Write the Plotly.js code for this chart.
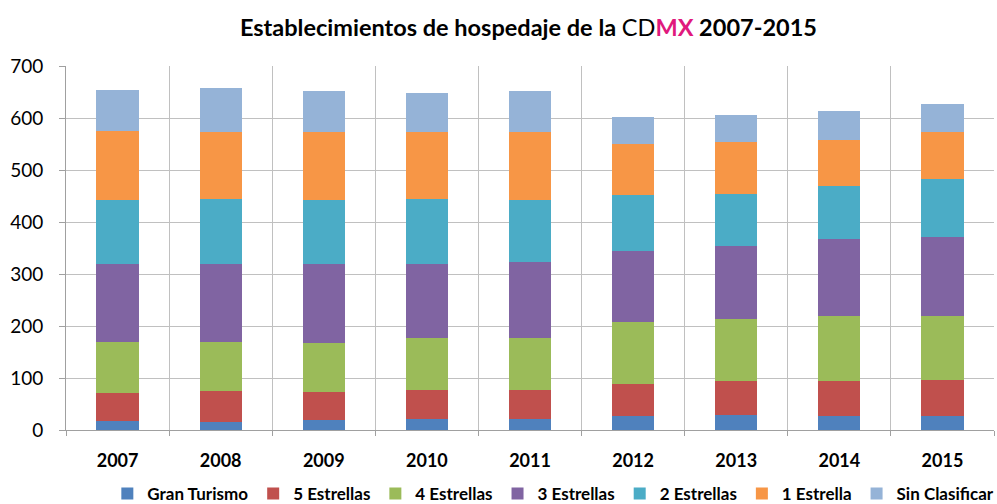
<!DOCTYPE html>
<html>
<head>
<meta charset="utf-8">
<script src="https://cdn.plot.ly/plotly-3.0.1.min.js"></script>
<style>html,body{margin:0;padding:0;background:#fff;}#chart{width:997px;height:504px;}</style>
</head>
<body>
<div id="chart"></div>
<script>
var years = ["2007","2008","2009","2010","2011","2012","2013","2014","2015"];
var granTurismo   = [17, 16, 20, 22, 22, 27, 29, 26, 26];
var cincoEstrellas = [55, 59, 54, 55, 55, 62, 66, 69, 71];
var cuatroEstrellas = [98, 94, 94, 99, 99, 118, 118, 124, 123];
var tresEstrellas = [150, 151, 151, 144, 147, 137, 140, 149, 152];
var dosEstrellas  = [123, 124, 124, 124, 119, 108, 101, 101, 111];
var unaEstrella   = [132, 130, 130, 130, 132, 98, 100, 88, 91];
var sinClasificar = [79, 83, 79, 75, 77, 52, 51, 56, 52];

var seriesNames = ["Gran Turismo","5 Estrellas","4 Estrellas","3 Estrellas","2 Estrellas","1 Estrella","Sin Clasificar"];
var seriesData = [granTurismo, cincoEstrellas, cuatroEstrellas, tresEstrellas, dosEstrellas, unaEstrella, sinClasificar];
var colors = ["#4F81BD","#C0504D","#9BBB59","#8064A2","#4BACC6","#F79646","#95B3D7"];

var traces = seriesNames.map(function(n, i){
  return {type:"bar", name:n, x:years, y:seriesData[i], marker:{color:colors[i], line:{width:0}}};
});

var font = "Lato, 'Open Sans', sans-serif";
var layout = {
  width:997, height:504,
  barmode:"stack", bargap:0.59,
  margin:{l:66, r:3, t:66, b:74, autoexpand:false},
  paper_bgcolor:"#fff", plot_bgcolor:"#fff",
  font:{family:font, size:15, color:"#000"},
  title:{text:"<b>Establecimientos de hospedaje de la </b>CD<b><span style='color:#E0197D'>MX</span> 2007-2015</b>",
         x:0.53, xanchor:"center", y:0.945, yanchor:"middle", font:{family:font, size:23.5, color:"#000"}},
  xaxis:{type:"category", tickson:"boundaries", showgrid:true, gridcolor:"#C0C0C0", gridwidth:1,
         ticks:"outside", ticklen:5, tickcolor:"#A0A0A0", showline:true, linecolor:"#A0A0A0",
         tickfont:{family:font, size:18, weight:"bold"}, ticklabelstandoff:14, zeroline:false, automargin:false},
  yaxis:{range:[0,700], dtick:100, showgrid:true, gridcolor:"#C0C0C0", gridwidth:1,
         ticks:"outside", ticklen:6, tickcolor:"#A0A0A0", showline:true, linecolor:"#A0A0A0",
         tickfont:{family:font, size:19}, ticklabelstandoff:12, zeroline:false, automargin:false},
  legend:{orientation:"h", xref:"container", yref:"container", x:0.555, xanchor:"center", y:0.02, yanchor:"middle",
          font:{family:font, size:17, weight:"bold"}, traceorder:"normal", itemwidth:30},
  showlegend:true
};
Plotly.newPlot("chart", traces, layout, {displayModeBar:false});
</script>
</body>
</html>
